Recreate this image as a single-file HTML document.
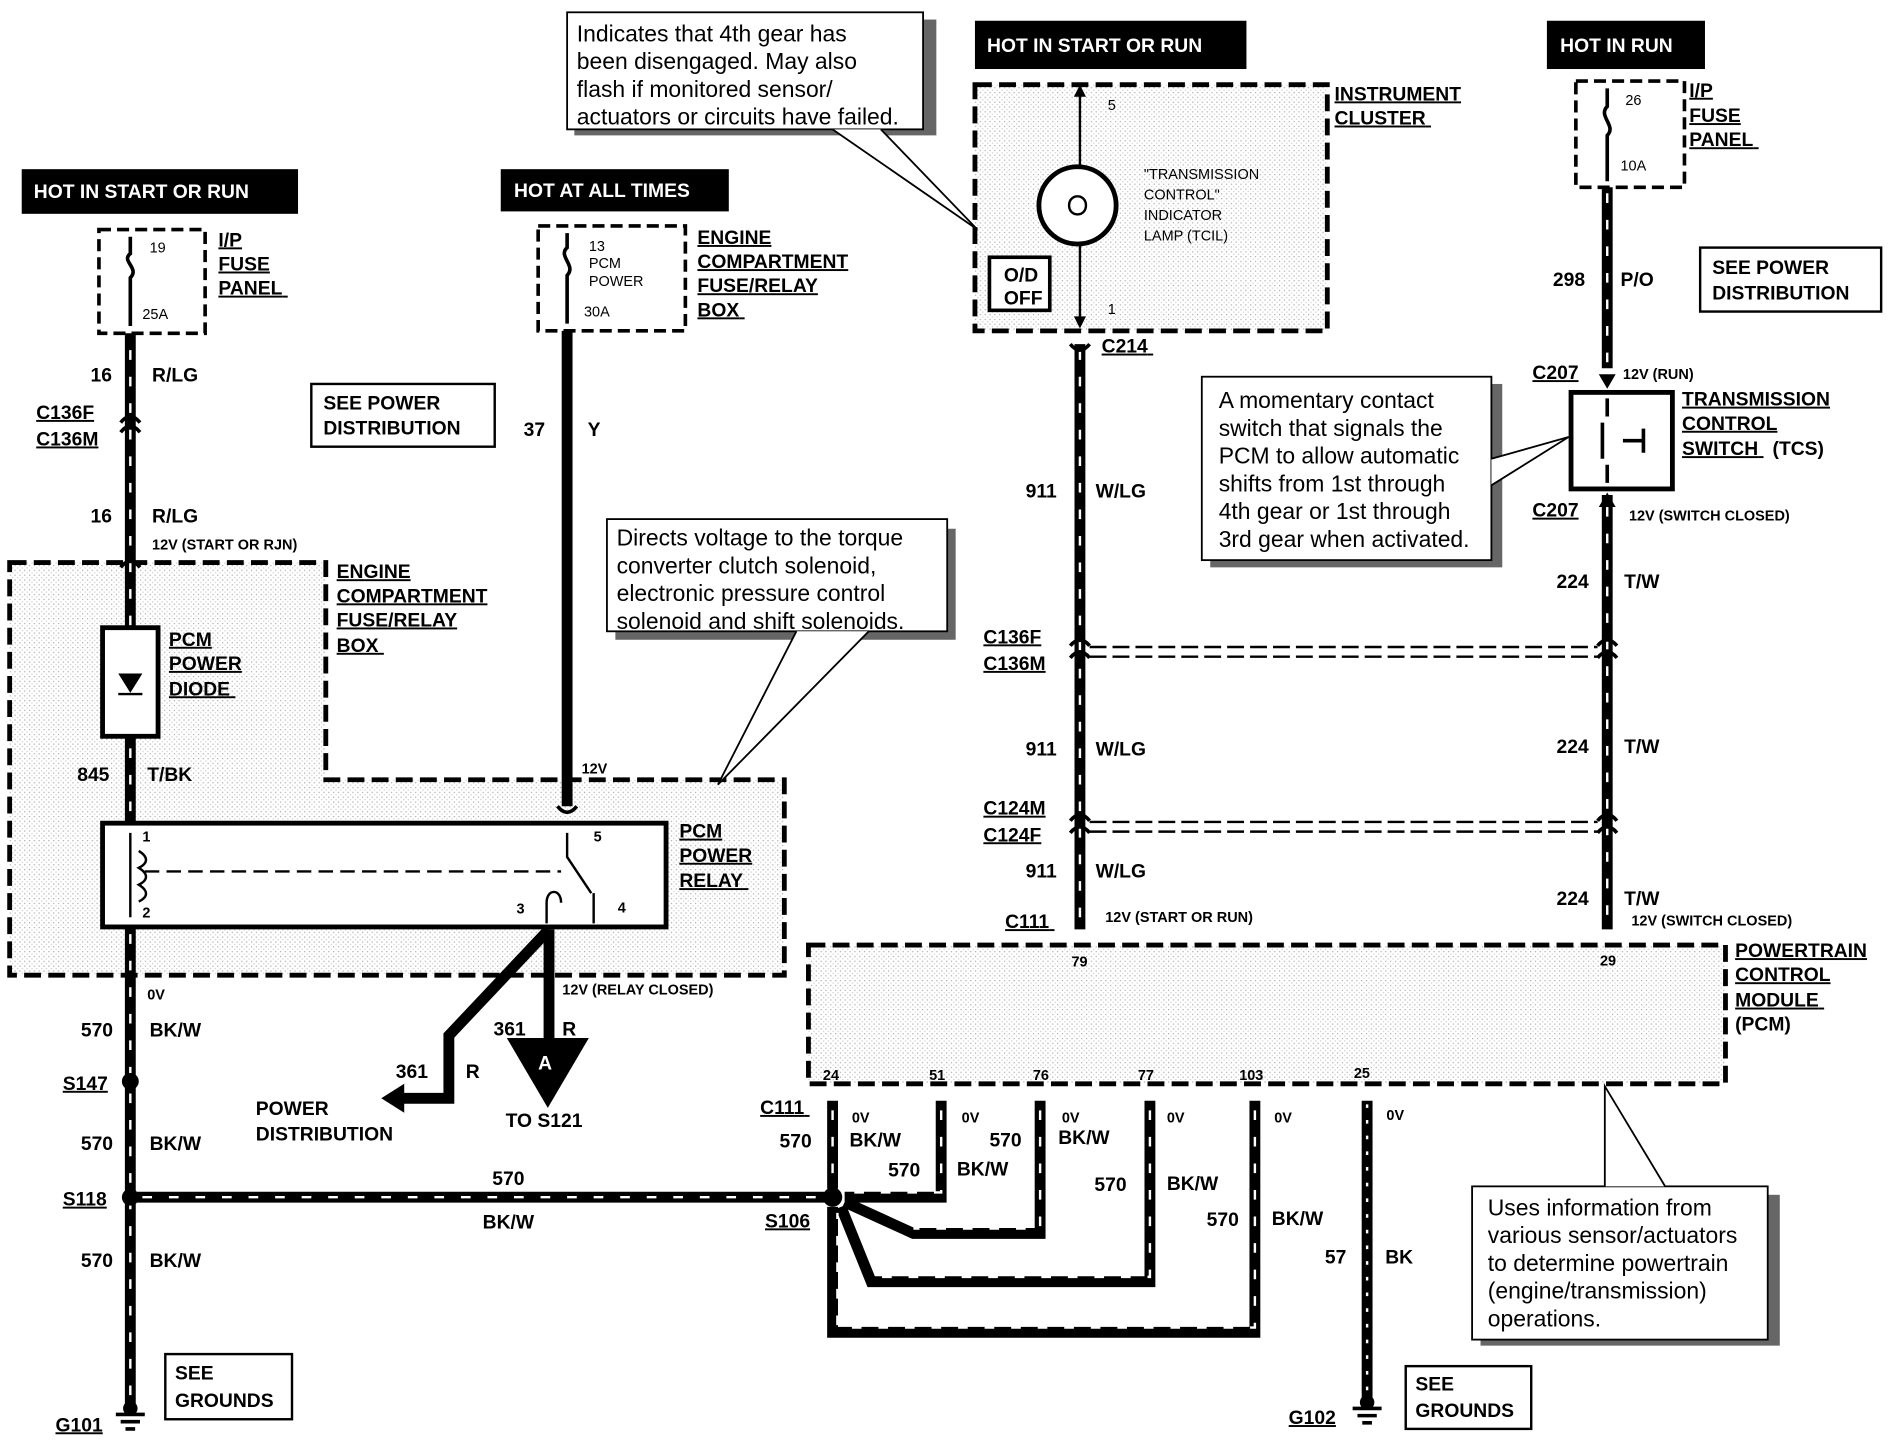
<!DOCTYPE html>
<html><head><meta charset="utf-8"><style>
html,body{margin:0;padding:0;background:#fff;width:1892px;height:1440px;overflow:hidden}
svg{display:block}
text{font-family:"Liberation Sans",Arial,sans-serif;fill:#000}
.b{font-weight:bold;font-size:16px}
.s{font-size:12px;font-weight:bold}
.u{text-decoration:underline}
.c{font-size:19px}
</style></head><body>
<svg width="1892" height="1440" viewBox="0 0 1568 1193" xmlns="http://www.w3.org/2000/svg">
<defs>
<pattern id="dots" width="4" height="4" patternUnits="userSpaceOnUse"><rect width="4" height="4" fill="#fff"/><rect width="1" height="1" fill="#aaa"/><rect x="2" y="2" width="1" height="1" fill="#ccc"/></pattern>
</defs>
<g stroke="#000" fill="none">
<!-- shaded regions -->
<path d="M8,466 H270 V646 H650 V808 H8 Z" fill="url(#dots)" stroke-width="4" stroke-dasharray="14,6"/>
<rect x="808" y="70" width="292" height="204" fill="url(#dots)" stroke-width="4" stroke-dasharray="14,6"/>
<rect x="670" y="783" width="760" height="115" fill="url(#dots)" stroke-width="4" stroke-dasharray="14,6"/>
<rect x="82" y="190" width="88" height="86" stroke-width="3" stroke-dasharray="10,5"/>
<rect x="446" y="187" width="122" height="87" stroke-width="3" stroke-dasharray="10,5"/>
<rect x="1306" y="67" width="90" height="88" stroke-width="3" stroke-dasharray="10,5"/>
</g>
<!-- header boxes -->
<rect x="18" y="140" width="229" height="37" fill="#000"/><text x="28" y="164" fill="#fff" style="fill:#fff" class="b">HOT IN START OR RUN</text>
<rect x="415" y="140" width="189" height="35" fill="#000"/><text x="426" y="163" style="fill:#fff" class="b">HOT AT ALL TIMES</text>
<rect x="808" y="17" width="225" height="40" fill="#000"/><text x="818" y="43" style="fill:#fff" class="b">HOT IN START OR RUN</text>
<rect x="1282" y="17" width="131" height="40" fill="#000"/><text x="1293" y="43" style="fill:#fff" class="b">HOT IN RUN</text>
<!-- wires: black with white stripes -->
<g stroke-linecap="butt" fill="none">
<g stroke="#000" stroke-width="9">
<path d="M108,276 V1165"/>
<path d="M895,285 V770"/>
<path d="M1332,155 V305"/><path d="M1332,410 V770"/>
<path d="M108,992 H690"/>
<path d="M690,912 V985 M780,912 V992 H700 M862,912 V1022 H757 L700,996 M953,912 V1062 H722 L697,1000 M1040,912 V1104 H690 V1000"/>
<path d="M1133,912 V1160"/>
</g>
<g stroke="#fff" stroke-width="2" stroke-dasharray="8,14">
<path d="M108,290 V1160"/>
<path d="M895,290 V765"/>
<path d="M1332,160 V300"/><path d="M1332,420 V765"/>
<path d="M118,992 H680"/>
<path d="M690,920 V980 M780,920 V988 H705 M862,920 V1018 H757 M953,920 V1058 H722 M1040,920 V1100 H694 V1005"/>
</g>
<path d="M1133,915 V1155" stroke="#fff" stroke-width="2" stroke-dasharray="3,10"/>
<path d="M470,274 V668" stroke="#000" stroke-width="9"/>
<path d="M455,770 L372,858 V910 H330" stroke="#000" stroke-width="9"/>
<path d="M455,770 V860" stroke="#000" stroke-width="9"/>
</g>
<polygon points="316,910 335,898 335,922" fill="#000"/>
<polygon points="420,860 488,860 454,918" fill="#000"/><text x="446" y="886" style="fill:#fff" class="b">A</text>
<!-- splices -->
<circle cx="108" cy="896" r="7"/><circle cx="108" cy="992" r="7"/><circle cx="690" cy="992" r="8"/>
<!-- grounds -->
<g stroke="#000" stroke-width="3"><path d="M96,1172 H120 M100,1178 H116 M104,1184 H112"/><path d="M1121,1167 H1145 M1125,1173 H1141 M1129,1179 H1137"/></g>
<circle cx="108" cy="1167" r="6"/><circle cx="1133" cy="1162" r="6"/>
<!-- fuses -->
<g stroke="#000" stroke-width="3" fill="none">
<path d="M108,196 V210 C100,216 116,222 108,230 V270"/>
<path d="M470,193 V205 C462,212 478,220 470,228 V268"/>
<path d="M1332,73 V88 C1324,96 1340,104 1332,112 V150"/>
</g>
<!-- PCM power diode -->
<rect x="85" y="520" width="46" height="90" fill="#fff" stroke="#000" stroke-width="4"/>
<polygon points="98,558 118,558 108,574" fill="#000"/><path d="M98,575 H118" stroke="#000" stroke-width="2"/>
<!-- relay -->
<rect x="85" y="682" width="467" height="86" fill="#fff" stroke="#000" stroke-width="4"/>
<path d="M108,690 V760 M115,705 c8,5 8,10 0,14 c8,5 8,10 0,14 c8,5 8,10 0,14" stroke="#000" stroke-width="2" fill="none"/>
<path d="M120,722 H465" stroke="#000" stroke-width="2" stroke-dasharray="12,6"/>
<path d="M470,690 V710 L490,740 M453,765 V748 c0,-12 12,-12 12,0 M492,740 V765" stroke="#000" stroke-width="2" fill="none"/>
<text x="118" y="697" class="s">1</text><text x="118" y="760" class="s">2</text><text x="492" y="697" class="s">5</text><text x="428" y="757" class="s">3</text><text x="512" y="756" class="s">4</text>
<!-- instrument cluster lamp -->
<path d="M895,72 V268" stroke="#000" stroke-width="2"/>
<polygon points="890,80 900,80 895,70" fill="#000"/><polygon points="890,262 900,262 895,272" fill="#000"/>
<circle cx="893" cy="170" r="32" fill="#fff" stroke="#000" stroke-width="4"/>
<path d="M886,170 c0,-10 14,-10 14,0 c0,10 -14,10 -14,0" stroke="#000" stroke-width="2" fill="none"/>
<text x="918" y="91" class="s" style="font-weight:normal">5</text><text x="918" y="260" class="s" style="font-weight:normal">1</text>
<text x="948" y="148" font-size="12">"TRANSMISSION</text><text x="948" y="165" font-size="12">CONTROL"</text><text x="948" y="182" font-size="12">INDICATOR</text><text x="948" y="199" font-size="12">LAMP (TCIL)</text>
<rect x="820" y="213" width="50" height="44" fill="#fff" stroke="#000" stroke-width="3"/>
<text x="832" y="233" class="b">O/D</text><text x="832" y="252" class="b">OFF</text>
<!-- TCS -->
<rect x="1302" y="325" width="84" height="80" fill="#fff" stroke="#000" stroke-width="4"/>
<path d="M1332,330 V345 M1332,385 V400 M1328,350 V380 M1345,365 H1362 M1362,355 V375" stroke="#000" stroke-width="3"/>
<polygon points="1325,310 1339,310 1332,322" fill="#000"/><polygon points="1325,420 1339,420 1332,408" fill="#000"/>
<!-- connector arcs -->
<g stroke="#000" stroke-width="3" fill="none">
<path d="M100,350 Q108,340 116,350 M100,358 Q108,348 116,358"/>
<path d="M887,535 Q895,525 903,535 M887,545 Q895,535 903,545"/>
<path d="M1324,535 Q1332,525 1340,535 M1324,545 Q1332,535 1340,545"/>
<path d="M887,680 Q895,670 903,680 M887,690 Q895,680 903,690"/>
<path d="M1324,680 Q1332,670 1340,680 M1324,690 Q1332,680 1340,690"/>
<path d="M887,285 Q895,295 903,285 M462,668 Q470,678 478,668 M100,470 Q108,460 116,470"/>
</g>
<g stroke="#000" stroke-width="2" stroke-dasharray="14,5"><path d="M903,536 H1324 M903,544 H1324 M903,681 H1324 M903,689 H1324"/></g>
<!-- callouts -->
<g fill="#fff" stroke="#000" stroke-width="1.5">
<rect x="476" y="16" width="300" height="96" fill="#666" stroke="none"/><rect x="470" y="10" width="295" height="97"/>
<rect x="510" y="438" width="282" height="92" fill="#666" stroke="none"/><rect x="503" y="430" width="282" height="93"/>
<rect x="1003" y="318" width="242" height="152" fill="#666" stroke="none"/><rect x="996" y="312" width="240" height="152"/>
<rect x="1227" y="990" width="248" height="125" fill="#666" stroke="none"/><rect x="1220" y="983" width="245" height="127"/>
<path d="M690,107 L810,190 L730,107" />
<path d="M660,523 L595,650 L720,523"/>
<path d="M1236,380 L1300,362 L1236,402"/>
<path d="M1330,983 L1330,900 L1380,983"/>
</g>
<text class="c"><tspan x="478" y="34">Indicates that 4th gear has</tspan><tspan x="478" y="57">been disengaged.  May also</tspan><tspan x="478" y="80">flash if monitored sensor/</tspan><tspan x="478" y="103">actuators or circuits have failed.</tspan></text>
<text class="c"><tspan x="511" y="452">Directs voltage to the torque</tspan><tspan x="511" y="475">converter clutch solenoid,</tspan><tspan x="511" y="498">electronic pressure control</tspan><tspan x="511" y="521">solenoid and shift solenoids.</tspan></text>
<text class="c"><tspan x="1010" y="338">A momentary contact</tspan><tspan x="1010" y="361">switch that signals the</tspan><tspan x="1010" y="384">PCM to allow automatic</tspan><tspan x="1010" y="407">shifts from 1st through</tspan><tspan x="1010" y="430">4th gear or 1st through</tspan><tspan x="1010" y="453">3rd gear when activated.</tspan></text>
<text class="c"><tspan x="1233" y="1007">Uses information from</tspan><tspan x="1233" y="1030">various sensor/actuators</tspan><tspan x="1233" y="1053">to determine powertrain</tspan><tspan x="1233" y="1076">(engine/transmission)</tspan><tspan x="1233" y="1099">operations.</tspan></text>
<!-- see boxes -->
<g fill="#fff" stroke="#000" stroke-width="2">
<rect x="258" y="318" width="152" height="52"/><rect x="1409" y="205" width="150" height="53"/>
<rect x="137" y="1122" width="105" height="54"/><rect x="1165" y="1132" width="104" height="52"/>
</g>
<text class="b"><tspan x="268" y="339">SEE POWER</tspan><tspan x="268" y="360">DISTRIBUTION</tspan><tspan x="1419" y="227">SEE POWER</tspan><tspan x="1419" y="248">DISTRIBUTION</tspan><tspan x="145" y="1143">SEE</tspan><tspan x="145" y="1166">GROUNDS</tspan><tspan x="1173" y="1152">SEE</tspan><tspan x="1173" y="1174">GROUNDS</tspan></text>
<!-- component labels -->
<text class="b u"><tspan x="181" y="204">I/P</tspan><tspan x="181" y="224">FUSE</tspan><tspan x="181" y="244">PANEL</tspan>
<tspan x="578" y="202">ENGINE</tspan><tspan x="578" y="222">COMPARTMENT</tspan><tspan x="578" y="242">FUSE/RELAY</tspan><tspan x="578" y="262">BOX</tspan>
<tspan x="279" y="479">ENGINE</tspan><tspan x="279" y="499">COMPARTMENT</tspan><tspan x="279" y="519">FUSE/RELAY</tspan><tspan x="279" y="540">BOX</tspan>
<tspan x="140" y="535">PCM</tspan><tspan x="140" y="555">POWER</tspan><tspan x="140" y="576">DIODE</tspan>
<tspan x="563" y="694">PCM</tspan><tspan x="563" y="714">POWER</tspan><tspan x="563" y="735">RELAY</tspan>
<tspan x="1106" y="83">INSTRUMENT</tspan><tspan x="1106" y="103">CLUSTER</tspan>
<tspan x="1400" y="80">I/P</tspan><tspan x="1400" y="101">FUSE</tspan><tspan x="1400" y="121">PANEL</tspan>
<tspan x="1394" y="336">TRANSMISSION</tspan><tspan x="1394" y="356">CONTROL</tspan><tspan x="1394" y="377">SWITCH</tspan>
<tspan x="1438" y="793">POWERTRAIN</tspan><tspan x="1438" y="813">CONTROL</tspan><tspan x="1438" y="834">MODULE</tspan>
<tspan x="30" y="347">C136F</tspan><tspan x="30" y="369">C136M</tspan><tspan x="913" y="292">C214</tspan>
<tspan x="815" y="533">C136F</tspan><tspan x="815" y="555">C136M</tspan><tspan x="815" y="675">C124M</tspan><tspan x="815" y="697">C124F</tspan><tspan x="833" y="769">C111</tspan>
<tspan x="1270" y="314">C207</tspan><tspan x="1270" y="428">C207</tspan><tspan x="630" y="923">C111</tspan>
<tspan x="52" y="903">S147</tspan><tspan x="52" y="999">S118</tspan><tspan x="634" y="1017">S106</tspan><tspan x="46" y="1186">G101</tspan><tspan x="1068" y="1180">G102</tspan></text>
<text class="b"><tspan x="1469" y="377">(TCS)</tspan><tspan x="1438" y="854">(PCM)</tspan>
<tspan x="75" y="316">16</tspan><tspan x="126" y="316">R/LG</tspan><tspan x="75" y="433">16</tspan><tspan x="126" y="433">R/LG</tspan>
<tspan x="434" y="361">37</tspan><tspan x="487" y="361">Y</tspan><tspan x="64" y="647">845</tspan><tspan x="122" y="647">T/BK</tspan>
<tspan x="67" y="859">570</tspan><tspan x="124" y="859">BK/W</tspan><tspan x="67" y="953">570</tspan><tspan x="124" y="953">BK/W</tspan><tspan x="67" y="1050">570</tspan><tspan x="124" y="1050">BK/W</tspan>
<tspan x="408" y="982">570</tspan><tspan x="400" y="1018">BK/W</tspan>
<tspan x="409" y="858">361</tspan><tspan x="466" y="858">R</tspan><tspan x="328" y="893">361</tspan><tspan x="386" y="893">R</tspan>
<tspan x="212" y="924">POWER</tspan><tspan x="212" y="945">DISTRIBUTION</tspan><tspan x="419" y="934">TO S121</tspan>
<tspan x="850" y="412">911</tspan><tspan x="908" y="412">W/LG</tspan><tspan x="850" y="626">911</tspan><tspan x="908" y="626">W/LG</tspan><tspan x="850" y="727">911</tspan><tspan x="908" y="727">W/LG</tspan>
<tspan x="1287" y="237">298</tspan><tspan x="1343" y="237">P/O</tspan><tspan x="1290" y="487">224</tspan><tspan x="1346" y="487">T/W</tspan><tspan x="1290" y="624">224</tspan><tspan x="1346" y="624">T/W</tspan><tspan x="1290" y="750">224</tspan><tspan x="1346" y="750">T/W</tspan>
<tspan x="646" y="951">570</tspan><tspan x="704" y="950">BK/W</tspan><tspan x="736" y="975">570</tspan><tspan x="793" y="974">BK/W</tspan><tspan x="820" y="950">570</tspan><tspan x="877" y="948">BK/W</tspan>
<tspan x="907" y="987">570</tspan><tspan x="967" y="986">BK/W</tspan><tspan x="1000" y="1016">570</tspan><tspan x="1054" y="1015">BK/W</tspan><tspan x="1098" y="1047">57</tspan><tspan x="1148" y="1047">BK</tspan></text>
<text class="s"><tspan x="126" y="455">12V (START OR RJN)</tspan><tspan x="482" y="641">12V</tspan><tspan x="122" y="828">0V</tspan><tspan x="466" y="824">12V (RELAY CLOSED)</tspan>
<tspan x="1345" y="314">12V (RUN)</tspan><tspan x="1350" y="431">12V (SWITCH CLOSED)</tspan><tspan x="916" y="764">12V (START OR RUN)</tspan><tspan x="1352" y="767">12V (SWITCH CLOSED)</tspan>
<tspan x="888" y="801">79</tspan><tspan x="1326" y="800">29</tspan><tspan x="682" y="895">24</tspan><tspan x="770" y="895">51</tspan><tspan x="856" y="895">76</tspan><tspan x="943" y="895">77</tspan><tspan x="1027" y="895">103</tspan><tspan x="1122" y="893">25</tspan>
<tspan x="706" y="930">0V</tspan><tspan x="797" y="930">0V</tspan><tspan x="880" y="930">0V</tspan><tspan x="967" y="930">0V</tspan><tspan x="1056" y="930">0V</tspan><tspan x="1149" y="928">0V</tspan></text>
<text font-size="12"><tspan x="124" y="209">19</tspan><tspan x="118" y="264">25A</tspan><tspan x="488" y="208">13</tspan><tspan x="488" y="222">PCM</tspan><tspan x="488" y="237">POWER</tspan><tspan x="484" y="262">30A</tspan><tspan x="1347" y="87">26</tspan><tspan x="1343" y="141">10A</tspan></text>
</svg>
</body></html>
